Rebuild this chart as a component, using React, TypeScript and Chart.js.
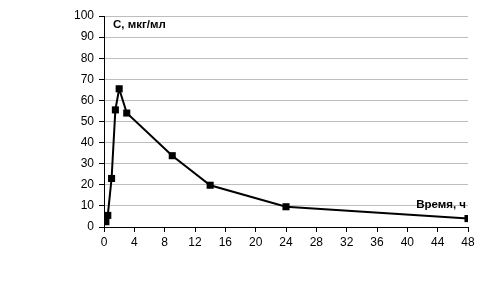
import React, { useEffect, useRef } from "react";
import { Chart, registerables } from "chart.js";

Chart.register(...registerables);

const timeH = [0.25, 0.5, 1, 1.5, 2, 3, 9, 14, 24, 48];
const concentration = [2.5, 5.5, 23, 55.5, 65.5, 54, 33.8, 19.8, 9.6, 4];
const xTicks = [0, 4, 8, 12, 16, 20, 24, 28, 32, 36, 40, 44, 48];
const yTitle = "C, мкг/мл";
const xTitle = "Время, ч";

const FONT = "'Liberation Sans', Arial, sans-serif";

export default function App() {
  const ref = useRef<HTMLCanvasElement>(null);
  useEffect(() => {
    document.body.style.margin = "0";
    const labelsPlugin = {
      id: "axisLabels",
      afterDraw(chart: any) {
        const { ctx, chartArea } = chart;
        ctx.save();
        ctx.fillStyle = "#000";
        ctx.font = `bold 11.5px ${FONT}`;
        ctx.textBaseline = "middle";
        ctx.textAlign = "left";
        ctx.fillText(yTitle, chartArea.left + 9, chartArea.top + 9);
        ctx.textAlign = "right";
        ctx.fillText(xTitle, chartArea.right - 2, chartArea.bottom - 22);
        ctx.restore();
      },
    };
    const chart = new Chart(ref.current!, {
      type: "scatter",
      data: {
        datasets: [
          {
            data: timeH.map((t, i) => ({ x: t, y: concentration[i] })),
            showLine: true,
            borderColor: "#000",
            backgroundColor: "#000",
            borderWidth: 2,
            pointStyle: "rect",
            pointRadius: 5,
            pointBorderWidth: 0,
            tension: 0,
          },
        ],
      },
      options: {
        animation: false,
        responsive: false,
        layout: { padding: { top: 16, right: 11, left: 0, bottom: 0 } },
        plugins: { legend: { display: false }, tooltip: { enabled: false } },
        scales: {
          x: {
            type: "linear",
            min: 0,
            max: 48,
            afterBuildTicks: (s: any) => {
              s.ticks = xTicks.map((v) => ({ value: v }));
            },
            afterFit: (s: any) => {
              s.height = 61;
            },
            grid: {
              drawOnChartArea: false,
              drawTicks: true,
              tickLength: 5,
              tickColor: "#000",
            },
            border: { color: "#000", width: 1 },
            ticks: {
              color: "#000",
              font: { family: FONT, size: 12 },
              padding: 3,
              maxRotation: 0,
              autoSkip: false,
            },
          },
          y: {
            min: 0,
            max: 100,
            afterFit: (s: any) => {
              s.width = 104;
            },
            grid: {
              color: "#bdbdbd",
              tickColor: "#000",
              tickLength: 5,
            },
            border: { color: "#000", width: 1 },
            ticks: {
              stepSize: 10,
              color: "#000",
              font: { family: FONT, size: 12 },
              padding: 5,
            },
          },
        },
      },
      plugins: [labelsPlugin],
    });
    return () => chart.destroy();
  }, []);
  return (
    <div style={{ position: "absolute", left: 0, top: 0, width: 479, height: 288, background: "#fff" }}>
      <canvas ref={ref} width={479} height={288} style={{ width: 479, height: 288 }} />
    </div>
  );
}
